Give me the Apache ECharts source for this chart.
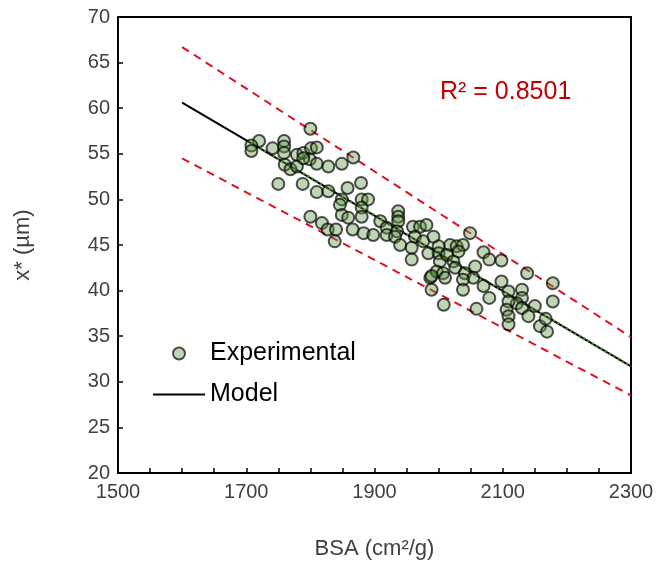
<!DOCTYPE html>
<html><head><meta charset="utf-8">
<script src="https://cdn.jsdelivr.net/npm/echarts@6/dist/echarts.min.js"></script>
<style>html,body{margin:0;padding:0;background:#fff}#c{width:662px;height:562px}</style>
</head><body><div id="c"></div>
<script>
// Experimental data (BSA, x*)
const expBSA = [1800,1720,1708,1708,1741,1759,1759,1759,1779,1789,1801,1810,1799,1810,1760,1769,1779,1789,1828,1849,1867,1750,1788,1810,1828,1858,1849,1846,1879,1800,1818,1827,1840,1838,1849,1859,1866,
1880,1890,1880,1880,1883,1898,1909,1919,1919,1937,1937,1937,1935,1932,1940,1960,1971,1981,1963,1976,1992,1958,1958,1984,2000,2000,2002,2018,2028,2013,2023,1987,1997,2007,2010,1989,2026,1989,
2049,2038,2031,2070,2079,2098,2057,2041,2054,2038,2038,2070,2079,2098,2109,2130,2138,2130,2122,2109,2106,2130,2140,2150,2109,2109,2158,2169,2167,2178,2178,2008,2059];
const expX = [57.75,56.4,55.9,55.3,55.6,56.4,55.8,55.1,54.9,55.1,55.6,55.7,54.4,53.9,53.8,53.3,53.6,54.5,53.6,53.9,54.6,51.7,51.7,50.8,50.9,51.25,50.0,49.4,51.8,48.1,47.4,46.7,46.7,45.4,48.3,48.0,46.7,
50.0,50.0,49.1,48.1,46.3,46.1,47.6,46.9,46.1,48.7,48.1,47.6,46.5,45.9,45.0,47.0,47.0,47.2,45.9,45.4,45.9,44.7,43.4,44.1,44.85,44.1,43.2,45.0,44.85,43.9,43.2,41.4,42.1,41.9,41.4,40.1,42.5,41.6,
46.3,45.0,44.3,44.2,43.4,43.3,42.65,41.9,41.4,41.2,40.1,40.5,39.2,41.0,39.9,40.1,41.9,39.2,38.6,38.8,37.9,38.1,37.2,38.3,37.2,36.3,36.1,35.5,36.9,40.8,38.8,38.45,38.0];
// Model line and ±10% bands
const modelBSA = [1600, 2300];
const modelX = [60.6, 31.7];
const upperX = [66.7, 34.9];
const lowerX = [54.5, 28.5];
// Linear trendline of experimental data
const trendBSA = [1708, 2300];
const trendX = [56.2, 31.7];
const xTicks = [1500, 1700, 1900, 2100, 2300];
const r2Label = 'R² = 0.8501';

const zip = (a, b) => a.map((v, i) => [v, b[i]]);
const font = 'Liberation Sans, Arial, sans-serif';
const red = '#e0101e';

const chart = echarts.init(document.getElementById('c'), null, {renderer: 'canvas'});
chart.setOption({
  animation: false,
  backgroundColor: '#fff',
  grid: {left: 118, right: 31, top: 17, bottom: 89, show: true, borderColor: '#000', borderWidth: 2,
    containLabel: false, outerBoundsMode: 'none'},
  xAxis: {
    type: 'value', min: 1500, max: 2300, interval: 50,
    name: 'BSA (cm²/g)', nameLocation: 'middle', nameGap: 65,
    nameTextStyle: {fontFamily: font, fontSize: 22, color: '#404040'},
    axisLine: {lineStyle: {color: '#000', width: 2}},
    axisTick: {inside: true, length: 5, lineStyle: {color: '#000', width: 1.5}},
    axisLabel: {fontFamily: font, fontSize: 20, color: '#404040', margin: 9,
      formatter: v => xTicks.includes(v) ? String(v) : ''},
    splitLine: {show: false}
  },
  yAxis: {
    type: 'value', min: 20, max: 70, interval: 5,
    name: 'x* (µm)', nameLocation: 'middle', nameGap: 84,
    nameTextStyle: {fontFamily: font, fontSize: 22, color: '#404040'},
    axisLine: {lineStyle: {color: '#000', width: 2}},
    axisTick: {inside: true, length: 5, lineStyle: {color: '#000', width: 1.5}},
    axisLabel: {fontFamily: font, fontSize: 20, color: '#404040', margin: 8},
    splitLine: {show: false}
  },
  legend: {
    data: [
      {name: 'Experimental', icon: 'circle'},
      {name: 'Model', icon: 'path://M0,0 L52,0 L52,2 L0,2 Z'}
    ],
    orient: 'vertical', left: 148, top: 336,
    itemWidth: 52, itemHeight: 12, itemGap: 16,
    textStyle: {fontFamily: font, fontSize: 25, color: '#000'}
  },
  graphic: [{type: 'text', left: 440, top: 80,
    style: {text: r2Label, fill: '#c00000', font: '25px ' + font}}],
  series: [
    {name: 'Upper', type: 'line', data: zip(modelBSA, upperX), showSymbol: false, symbol: 'none',
      lineStyle: {color: red, width: 2, type: [8, 6]}, z: 1},
    {name: 'Lower', type: 'line', data: zip(modelBSA, lowerX), showSymbol: false, symbol: 'none',
      lineStyle: {color: red, width: 2, type: [8, 6]}, z: 1},
    {name: 'Model', type: 'line', data: zip(modelBSA, modelX), showSymbol: false, symbol: 'none',
      lineStyle: {color: '#000', width: 2}, itemStyle: {color: '#000'}, z: 2},
    {name: 'Trend', type: 'line', data: zip(trendBSA, trendX), showSymbol: false, symbol: 'none',
      lineStyle: {color: '#4f8a2e', width: 2.5, type: [2, 3]}, z: 3},
    {name: 'Experimental', type: 'scatter', data: zip(expBSA, expX), symbol: 'circle', symbolSize: 12,
      itemStyle: {color: 'rgba(95,150,65,0.5)', borderColor: 'rgba(0,0,0,0.85)', borderWidth: 2}, z: 4}
  ]
});
</script></body></html>
